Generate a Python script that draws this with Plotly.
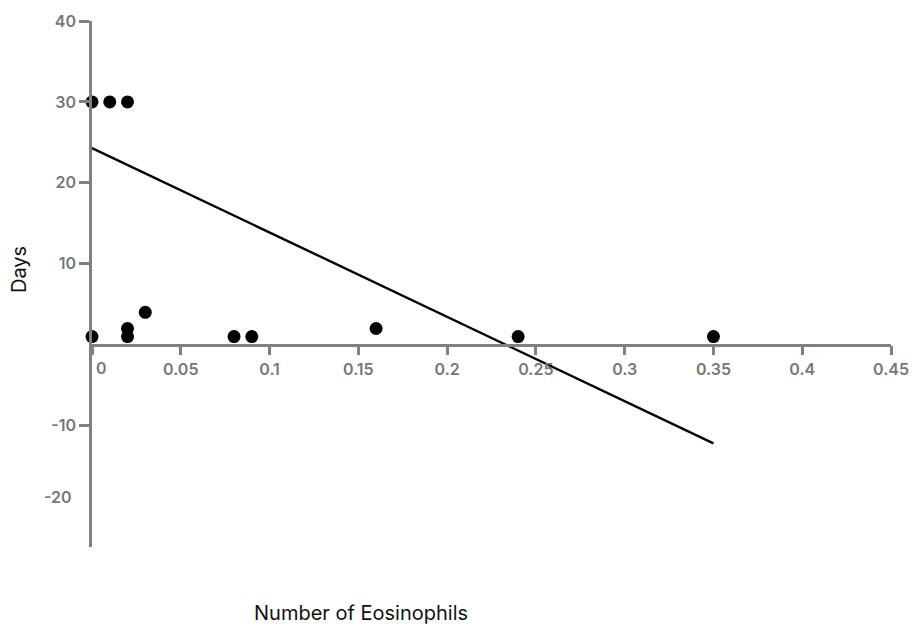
import plotly.graph_objects as go

# Data
eos_x = [0, 0.01, 0.02, 0, 0.02, 0.02, 0.03, 0.08, 0.09, 0.16, 0.24, 0.35]
days_y = [30, 30, 30, 1, 1, 2, 4, 1, 1, 2, 1, 1]
trend_x = [0, 0.35]
trend_y = [24.3, -12.2]

x_ticks = [0, 0.05, 0.1, 0.15, 0.2, 0.25, 0.3, 0.35, 0.4, 0.45]
x_tick_text = ["", "0.05", "0.1", "0.15", "0.2", "0.25", "0.3", "0.35", "0.4", "0.45"]
y_ticks = [-10, 10, 20, 30, 40]
y_tick_text = ["-10", "10", "20", "30", "40"]

W, H = 914, 626
L, R, T, B = 92, 23, 21, 79
pw, ph = W - L - R, H - T - B

def px_x(p):
    return (p - L) / pw

def px_y(p):
    return 1 - (p - T) / ph

fig = go.Figure()
fig.add_trace(go.Scatter(x=trend_x, y=trend_y, mode="lines",
                         line=dict(color="black", width=2.4), cliponaxis=False,
                         showlegend=False, hoverinfo="skip"))
fig.add_trace(go.Scatter(x=eos_x, y=days_y, mode="markers",
                         marker=dict(color="black", size=13), cliponaxis=False,
                         showlegend=False))

y_min, y_max = -25, 40
axis_color = "#808080"
FAM = "Inter, Noto Sans, sans-serif"
tick_font = dict(family=FAM, size=16, color="#777777", weight=600)
title_font = dict(family=FAM, size=20, color="#111111")

fig.update_layout(
    width=W, height=H,
    margin=dict(l=L, r=R, t=T, b=B, autoexpand=False),
    plot_bgcolor="white", paper_bgcolor="white",
    xaxis=dict(range=[0, 0.45], tickvals=x_ticks, ticktext=x_tick_text,
               showgrid=False, zeroline=False, showline=True, automargin=False,
               linecolor=axis_color, linewidth=2.5,
               ticks="outside", ticklen=9, tickwidth=2.5, tickcolor=axis_color,
               anchor="free", position=(0 - y_min) / (y_max - y_min),
               tickfont=tick_font),
    yaxis=dict(range=[y_min, y_max], tickvals=y_ticks, ticktext=y_tick_text,
               showgrid=False, zeroline=False, showline=True, automargin=False,
               linecolor=axis_color, linewidth=2.5,
               ticks="outside", ticklen=10, tickwidth=2.5, tickcolor=axis_color,
               tickfont=tick_font),
    annotations=[
        dict(text="Days", x=px_x(19), y=px_y(270), xref="paper", yref="paper",
             xanchor="center", yanchor="middle",
             showarrow=False, textangle=-90, font=title_font),
        dict(text="Number of Eosinophils", x=px_x(361), y=px_y(613),
             xref="paper", yref="paper", xanchor="center", yanchor="middle",
             showarrow=False, font=title_font),
        dict(text="0", x=px_x(101), y=px_y(368), xref="paper", yref="paper",
             xanchor="center", yanchor="middle", showarrow=False, font=tick_font),
        dict(text="-20", x=px_x(74), y=px_y(497), xref="paper", yref="paper",
             xanchor="right", yanchor="middle", showarrow=False, font=tick_font),
    ],
)

fig.write_html("out.html")
